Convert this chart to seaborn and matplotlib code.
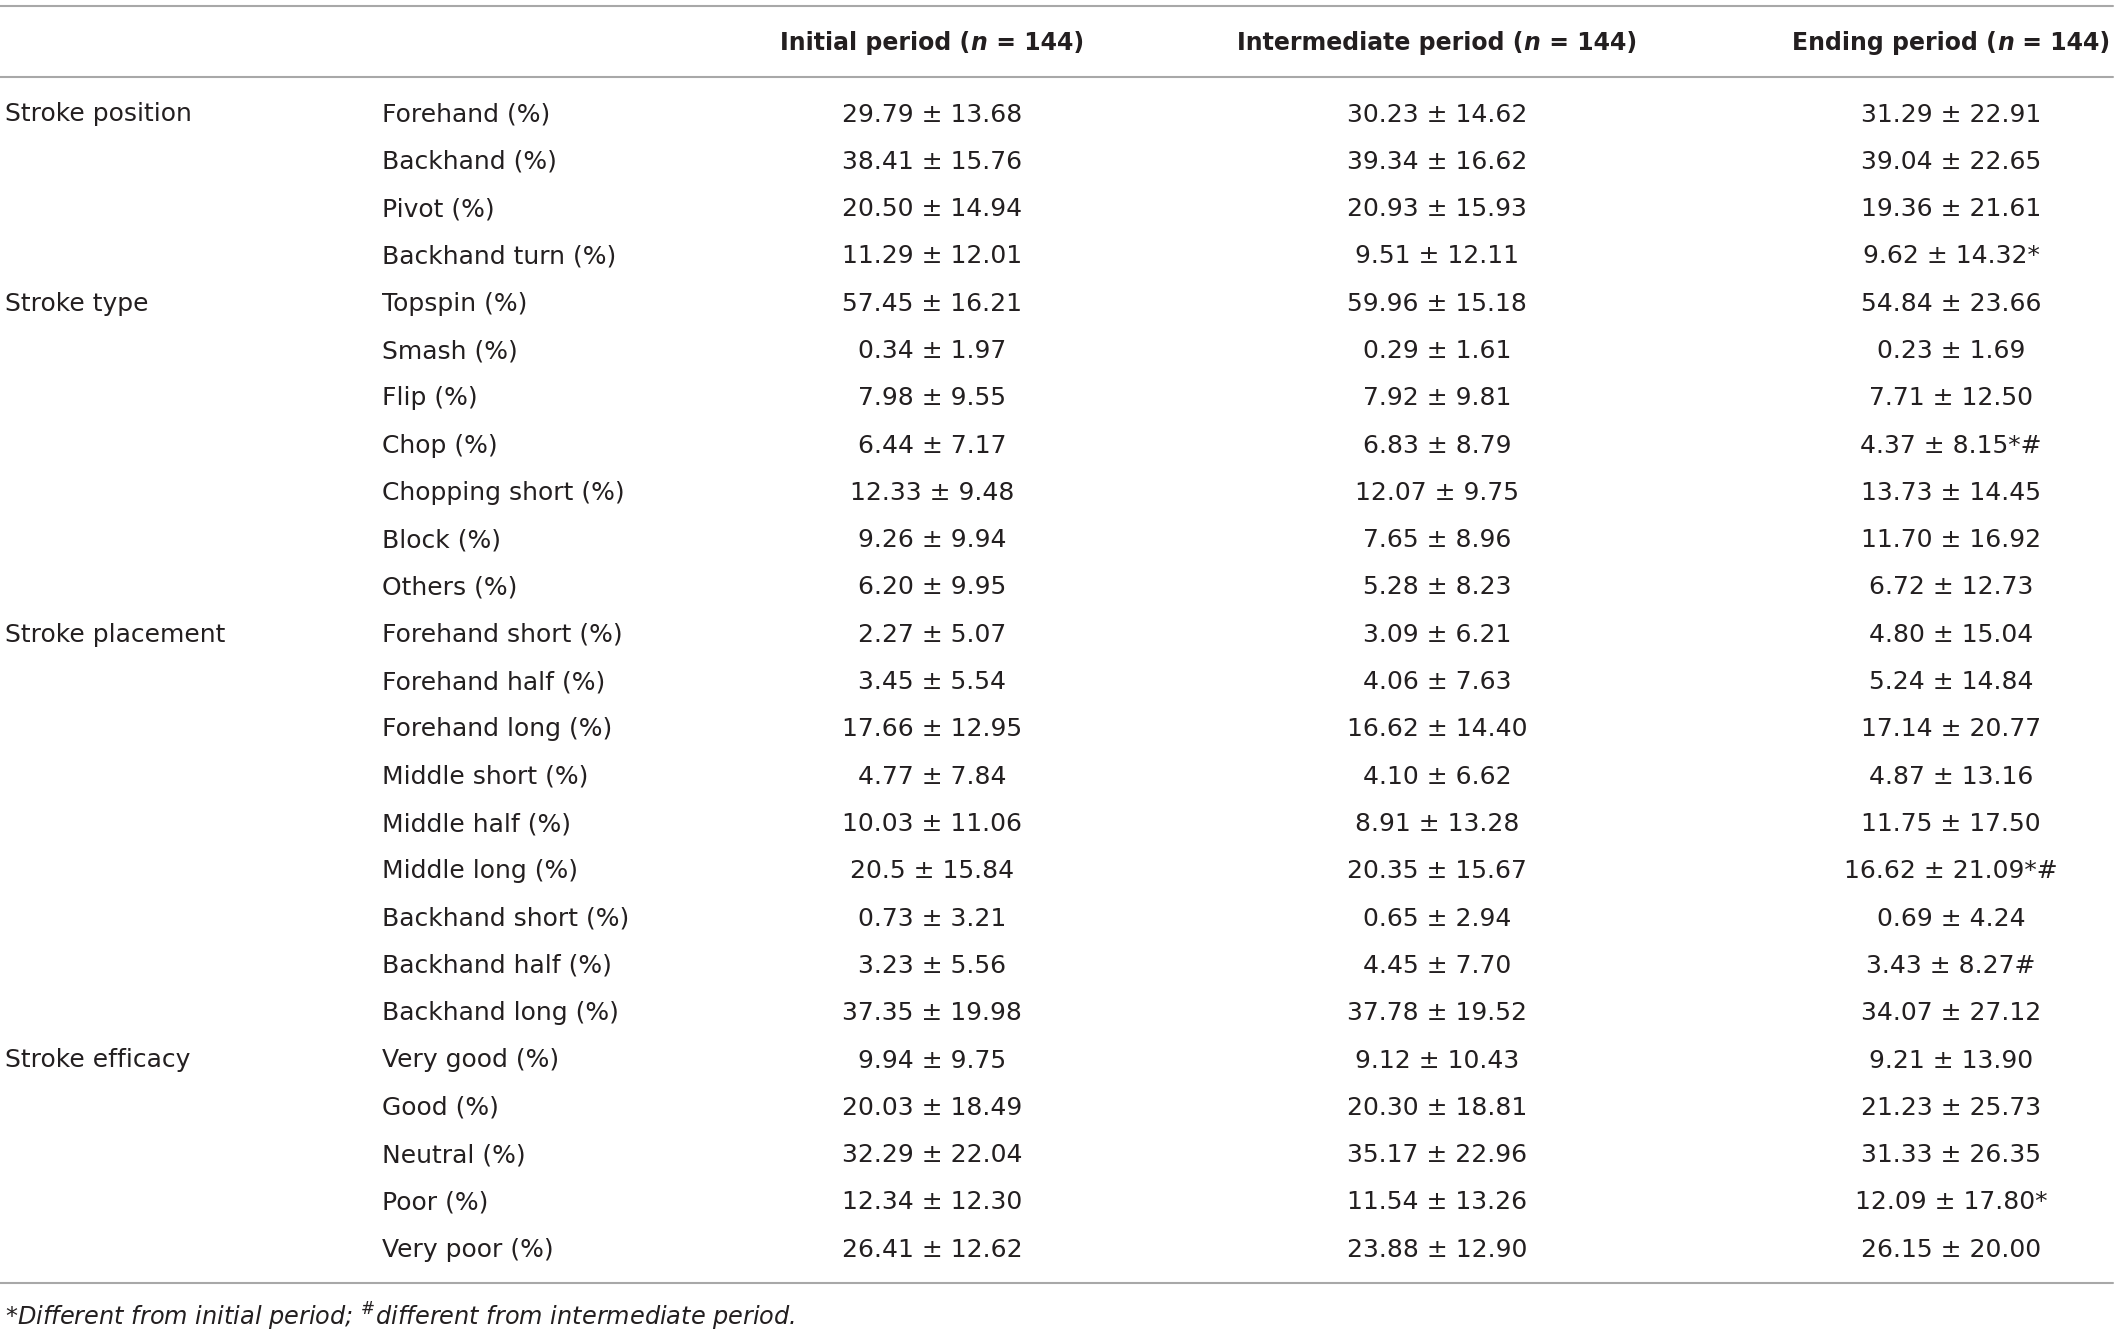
import matplotlib
matplotlib.use("Agg")
import matplotlib.pyplot as plt
import seaborn as sns
from matplotlib.offsetbox import TextArea, HPacker, AnnotationBbox

# table content
groups = ["Stroke position", "Stroke type", "Stroke placement", "Stroke efficacy"]
group_rows = [0, 4, 11, 20]
items = [
    "Forehand (%)", "Backhand (%)", "Pivot (%)", "Backhand turn (%)",
    "Topspin (%)", "Smash (%)", "Flip (%)", "Chop (%)", "Chopping short (%)",
    "Block (%)", "Others (%)",
    "Forehand short (%)", "Forehand half (%)", "Forehand long (%)",
    "Middle short (%)", "Middle half (%)", "Middle long (%)",
    "Backhand short (%)", "Backhand half (%)", "Backhand long (%)",
    "Very good (%)", "Good (%)", "Neutral (%)", "Poor (%)", "Very poor (%)",
]
initial = [
    "29.79 ± 13.68", "38.41 ± 15.76", "20.50 ± 14.94", "11.29 ± 12.01",
    "57.45 ± 16.21", "0.34 ± 1.97", "7.98 ± 9.55", "6.44 ± 7.17",
    "12.33 ± 9.48", "9.26 ± 9.94", "6.20 ± 9.95",
    "2.27 ± 5.07", "3.45 ± 5.54", "17.66 ± 12.95", "4.77 ± 7.84",
    "10.03 ± 11.06", "20.5 ± 15.84", "0.73 ± 3.21", "3.23 ± 5.56",
    "37.35 ± 19.98",
    "9.94 ± 9.75", "20.03 ± 18.49", "32.29 ± 22.04", "12.34 ± 12.30",
    "26.41 ± 12.62",
]
intermediate = [
    "30.23 ± 14.62", "39.34 ± 16.62", "20.93 ± 15.93", "9.51 ± 12.11",
    "59.96 ± 15.18", "0.29 ± 1.61", "7.92 ± 9.81", "6.83 ± 8.79",
    "12.07 ± 9.75", "7.65 ± 8.96", "5.28 ± 8.23",
    "3.09 ± 6.21", "4.06 ± 7.63", "16.62 ± 14.40", "4.10 ± 6.62",
    "8.91 ± 13.28", "20.35 ± 15.67", "0.65 ± 2.94", "4.45 ± 7.70",
    "37.78 ± 19.52",
    "9.12 ± 10.43", "20.30 ± 18.81", "35.17 ± 22.96", "11.54 ± 13.26",
    "23.88 ± 12.90",
]
ending = [
    "31.29 ± 22.91", "39.04 ± 22.65", "19.36 ± 21.61", "9.62 ± 14.32*",
    "54.84 ± 23.66", "0.23 ± 1.69", "7.71 ± 12.50", "4.37 ± 8.15*#",
    "13.73 ± 14.45", "11.70 ± 16.92", "6.72 ± 12.73",
    "4.80 ± 15.04", "5.24 ± 14.84", "17.14 ± 20.77", "4.87 ± 13.16",
    "11.75 ± 17.50", "16.62 ± 21.09*#", "0.69 ± 4.24", "3.43 ± 8.27#",
    "34.07 ± 27.12",
    "9.21 ± 13.90", "21.23 ± 25.73", "31.33 ± 26.35", "12.09 ± 17.80*",
    "26.15 ± 20.00",
]
periods = ["Initial period", "Intermediate period", "Ending period"]
n_sizes = [144, 144, 144]
footnote = r"*Different from initial period; $^{\#}$different from intermediate period."

sns.set_theme(style="white")
plt.rcParams["font.family"] = ["DejaVu Sans"]
plt.rcParams["mathtext.fontset"] = "dejavusans"

ink = "#231f20"
rule = "#a8a8a8"
W, H = 2117, 1337

fig = plt.figure(figsize=(W / 100, H / 100), dpi=100)
ax = fig.add_axes([0, 0, 1, 1])

# y axis counts rows; first baseline sits at ~121.5 px, rows 47.3 px apart
row0, step = 121.5, 47.3


def yrow(px):
    return (px - row0) / step


ax.set_xlim(0, W)
ax.set_ylim(yrow(H), yrow(0))
ax.axis("off")

label_x, item_x = 5, 382
col_x = [932, 1437, 1951]
fs = 18

for r, g in zip(group_rows, groups):
    ax.text(label_x, r, g, ha="left", va="baseline", fontsize=fs, color=ink)

for i, it in enumerate(items):
    ax.text(item_x, i, it, ha="left", va="baseline", fontsize=fs, color=ink)

for cx, col in zip(col_x, [initial, intermediate, ending]):
    for i, v in enumerate(col):
        ax.text(cx, i, v, ha="center", va="baseline", fontsize=fs, color=ink)

# header cells with italic n
bold = dict(fontsize=17, fontweight="bold", color=ink)
bold_it = dict(fontsize=17, fontweight="bold", fontstyle="italic", color=ink)
for cx, p, n in zip(col_x, periods, n_sizes):
    parts = [TextArea(f"{p} (", textprops=bold),
             TextArea("n", textprops=bold_it),
             TextArea(f" = {n})", textprops=bold)]
    box = HPacker(children=parts, align="baseline", pad=0, sep=0)
    ab = AnnotationBbox(box, (cx, yrow(43.0)), box_alignment=(0.5, 0.5),
                        frameon=False, pad=0)
    ax.add_artist(ab)

# horizontal rules
for px in [6, 77, 1283]:
    ax.axhline(yrow(px), xmin=0, xmax=2113 / W, color=rule, lw=1.5)

ax.text(label_x, yrow(1326), footnote, ha="left", va="baseline",
        fontsize=17.3, fontstyle="italic", color=ink)

fig.savefig("out.png", dpi=100)
